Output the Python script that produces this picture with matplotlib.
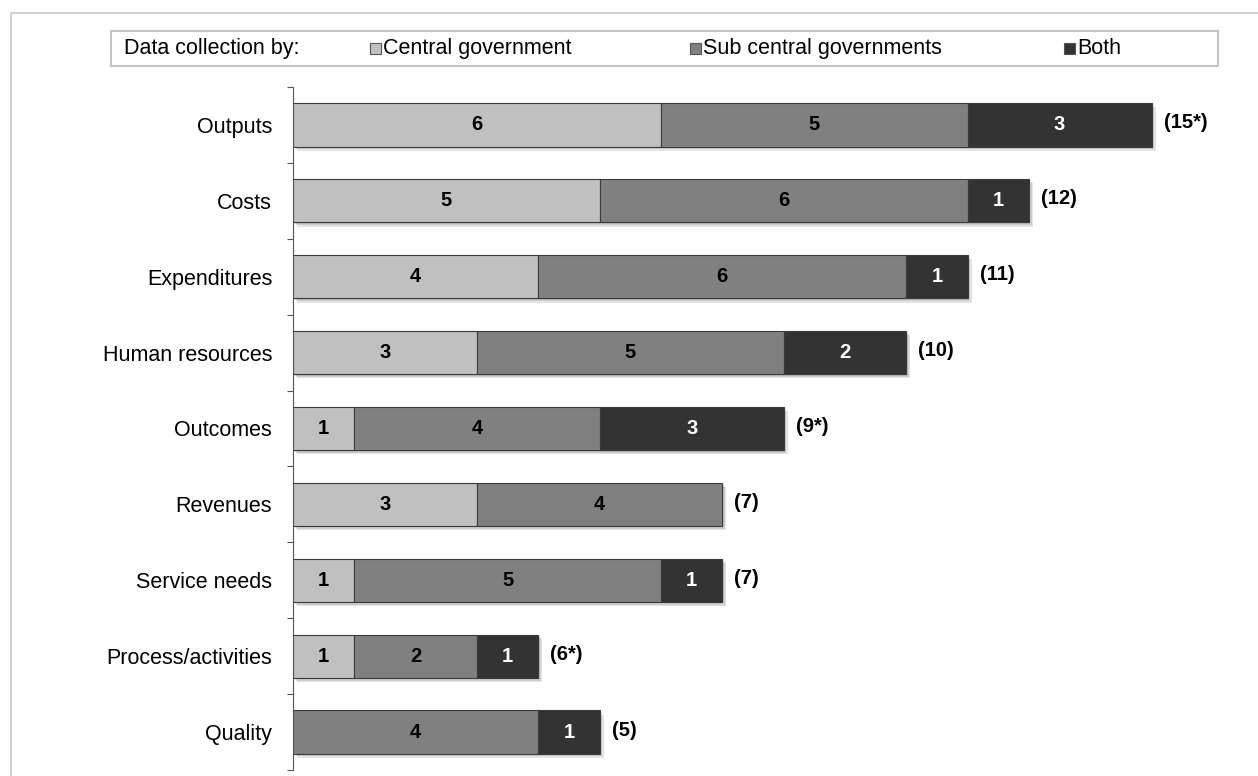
#!/usr/bin/python3
#
# plot.py - data collection by level of government, stacked bars

import matplotlib
matplotlib.use('Agg')
import matplotlib.pyplot as plt
import matplotlib.patheffects as pe
from matplotlib.patches import Rectangle
from matplotlib.ticker import FixedLocator

categories = ['Outputs', 'Costs', 'Expenditures', 'Human resources', 'Outcomes',
              'Revenues', 'Service needs', 'Process/activities', 'Quality']
central = [6, 5, 4, 3, 1, 3, 1, 1, 0]
sub_central = [5, 6, 6, 5, 4, 4, 5, 2, 4]
both = [3, 1, 1, 2, 3, 0, 1, 1, 1]
totals = ['(15*)', '(12)', '(11)', '(10)', '(9*)', '(7)', '(7)', '(6*)', '(5)']

series_names = ['Central government', 'Sub central governments', 'Both']
colors = ['#c0c0c0', '#808080', '#333333']
text_colors = ['black', 'black', 'white']

plt.rcParams['font.family'] = ['Liberation Sans', 'DejaVu Sans']

W, H = 1258, 776
fig = plt.figure(figsize=(W / 100, H / 100), dpi=100)

# light outer frame
fig.patches.append(Rectangle((11 / W, -0.1), 1.2, 1 - 13 / H + 0.1,
                             transform=fig.transFigure, fill=False,
                             edgecolor='#d4d4d4', linewidth=1.5))

ax = fig.add_axes([293 / W, 1 - 770 / H, 1 - 293 / W, (770 - 87) / H])

ypos = list(range(len(categories)))
# soft drop shadow, built from a few stacked offsets
shadow = [pe.SimplePatchShadow(offset=(o, -o), shadow_rgbFace='#666666', alpha=0.18)
          for o in (1.0, 2.0, 3.0)] + [pe.Normal()]

left = [0] * len(categories)
for vals, col, tcol in zip([central, sub_central, both], colors, text_colors):
    bars = ax.barh(ypos, vals, left=left, height=0.57, color=col,
                   edgecolor='#3a3a3a', linewidth=0.8)
    for b, v in zip(bars, vals):
        if v == 0:
            b.set_visible(False)
            continue
        b.set_path_effects(shadow)
        ax.text(b.get_x() + b.get_width() / 2, b.get_y() + b.get_height() / 2,
                str(v), ha='center', va='center', fontsize=14.5,
                fontweight='bold', color=tcol)
    left = [l + v for l, v in zip(left, vals)]

for y, end, lab in zip(ypos, left, totals):
    ax.annotate(lab, (end, y), xytext=(12, 2), textcoords='offset pixels',
                ha='left', va='center', fontsize=14.5, fontweight='bold')

ax.set_xlim(0, (W - 293) / 61.33)
ax.set_ylim(len(categories) - 0.5, -0.5)
ax.set_yticks(ypos)
ax.set_yticklabels(categories, fontsize=15.5)
ax.yaxis.set_minor_locator(FixedLocator([i - 0.5 for i in range(len(categories) + 1)]))
ax.tick_params(axis='y', which='major', length=0, pad=15)
ax.tick_params(axis='y', which='minor', length=4.5, color='#555555', width=0.8)
ax.set_xticks([])
for s in ['top', 'right', 'bottom']:
    ax.spines[s].set_visible(False)
ax.spines['left'].set_color('#555555')
ax.spines['left'].set_linewidth(0.8)

# legend strip
fig.patches.append(Rectangle((111 / W, 1 - 66 / H), (1218 - 111) / W, 35 / H,
                             transform=fig.transFigure, fill=False,
                             edgecolor='#c4c4c4', linewidth=1.5))
ly = 1 - 48.5 / H
fig.text(124 / W, ly, 'Data collection by:', fontsize=15.5, va='center')
for name, col, x0 in zip(series_names, colors, [370, 690, 1064]):
    fig.patches.append(Rectangle((x0 / W, ly - 5.5 / H), 11 / W, 11 / H,
                                 transform=fig.transFigure, facecolor=col,
                                 edgecolor='#555555', linewidth=0.8))
    fig.text((x0 + 13) / W, ly, name, fontsize=15.5, va='center')

fig.savefig('out.png', dpi=100)
